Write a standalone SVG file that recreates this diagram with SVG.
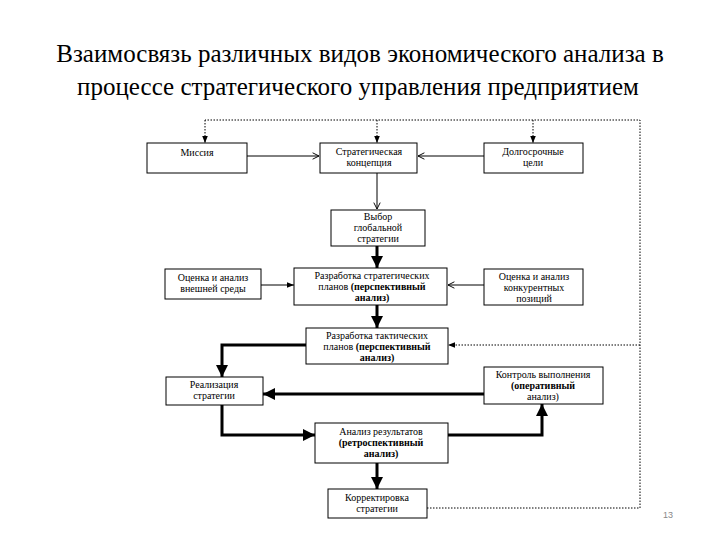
<svg xmlns="http://www.w3.org/2000/svg" width="720" height="540" viewBox="0 0 720 540">
<defs>
<style>
.box{fill:#fff;stroke:#000;stroke-width:1}
.t{font-family:'Liberation Serif','DejaVu Serif',serif;font-size:10px;fill:#000;text-anchor:middle}
.b{font-weight:bold}
.title{font-family:'Liberation Serif','DejaVu Serif',serif;font-size:25px;fill:#000;text-anchor:middle}
.thin{fill:none;stroke:#000;stroke-width:1}
.thick{fill:none;stroke:#000;stroke-width:3}
.dot{fill:none;stroke:#000;stroke-width:1;stroke-dasharray:1.5 1.5}
</style>
<marker id="fa" viewBox="0 0 10 10" refX="10" refY="5" markerWidth="7" markerHeight="7" markerUnits="userSpaceOnUse" orient="auto"><path d="M0,1 L10,5 L0,9 z" fill="#000"/></marker>
<marker id="ta" viewBox="0 0 10 10" refX="10" refY="5" markerWidth="4" markerHeight="4" orient="auto"><path d="M0,0 L10,5 L0,10 z" fill="#000"/></marker>
<marker id="oa" viewBox="0 0 10 10" refX="10" refY="5" markerWidth="8" markerHeight="8" markerUnits="userSpaceOnUse" orient="auto"><path d="M2,1 L10,5 L2,9" fill="none" stroke="#000" stroke-width="1.2"/></marker>
</defs>
<rect width="720" height="540" fill="#fff"/>
<text class="title" x="360" y="62">Взаимосвязь различных видов экономического анализа в</text>
<text class="title" x="358" y="95">процессе стратегического управления предприятием</text>
<g id="connectors">
<polyline class="dot" points="427,508 640,508 640,120 205,120"/>
<line class="dot" x1="205" y1="120" x2="205" y2="143" marker-end="url(#fa)"/>
<line class="dot" x1="377" y1="120" x2="377" y2="143" marker-end="url(#fa)"/>
<line class="dot" x1="533" y1="120" x2="533" y2="143" marker-end="url(#fa)"/>
<line class="dot" x1="640" y1="345" x2="448" y2="345" marker-end="url(#fa)"/>
<line class="thin" x1="247" y1="156" x2="319" y2="156" marker-end="url(#oa)"/>
<line class="thin" x1="484" y1="156" x2="418" y2="156" marker-end="url(#oa)"/>
<line class="thin" x1="377" y1="173" x2="377" y2="209" marker-end="url(#oa)"/>
<line class="thin" x1="261" y1="285" x2="294" y2="285" marker-end="url(#fa)"/>
<line class="thin" x1="484" y1="285" x2="448" y2="285" marker-end="url(#oa)"/>
<line class="thick" x1="377" y1="246" x2="377" y2="268" marker-end="url(#ta)"/>
<line class="thick" x1="377" y1="305" x2="377" y2="328" marker-end="url(#ta)"/>
<polyline class="thick" points="306,345 222,345 222,377" marker-end="url(#ta)"/>
<line class="thick" x1="484" y1="394" x2="263" y2="394" marker-end="url(#ta)"/>
<polyline class="thick" points="222,405 222,435 315,435" marker-end="url(#ta)"/>
<polyline class="thick" points="448,435 542,435 542,404" marker-end="url(#ta)"/>
<line class="thick" x1="377" y1="463" x2="377" y2="489" marker-end="url(#ta)"/>
</g>
<g id="n-missiya"><rect class="box" x="147" y="143" width="100" height="30"/><text class="t" x="197" y="156">Миссия</text></g>
<g id="n-koncepciya"><rect class="box" x="320" y="143" width="97" height="30"/><text class="t" x="369" y="155">Стратегическая</text><text class="t" x="369" y="166">концепция</text></g>
<g id="n-celi"><rect class="box" x="484" y="143" width="99" height="30"/><text class="t" x="533" y="155">Долгосрочные</text><text class="t" x="533" y="166">цели</text></g>
<g id="n-vybor"><rect class="box" x="331" y="210" width="94" height="36"/><text class="t" x="378" y="220">Выбор</text><text class="t" x="378" y="231">глобальной</text><text class="t" x="378" y="242">стратегии</text></g>
<g id="n-vneshn"><rect class="box" x="165" y="269" width="96" height="30"/><text class="t" x="213" y="281">Оценка и анализ</text><text class="t" x="213" y="292">внешней среды</text></g>
<g id="n-strat"><rect class="box" x="294" y="268" width="153" height="37"/><text class="t" x="372" y="279">Разработка стратегических</text><text class="t" x="372" y="290">планов <tspan class="b">(перспективный</tspan></text><text class="t b" x="372" y="301">анализ)</text></g>
<g id="n-konkur"><rect class="box" x="484" y="269" width="99" height="36"/><text class="t" x="534" y="280">Оценка и анализ</text><text class="t" x="534" y="291">конкурентных</text><text class="t" x="534" y="302">позиций</text></g>
<g id="n-takt"><rect class="box" x="306" y="328" width="142" height="36"/><text class="t" x="377" y="339">Разработка тактических</text><text class="t" x="377" y="350">планов <tspan class="b">(перспективный</tspan></text><text class="t b" x="377" y="361">анализ)</text></g>
<g id="n-realiz"><rect class="box" x="166" y="377" width="97" height="28"/><text class="t" x="214" y="388">Реализация</text><text class="t" x="214" y="399">стратегии</text></g>
<g id="n-kontrol"><rect class="box" x="484" y="367" width="119" height="37"/><text class="t" x="543" y="378">Контроль выполнения</text><text class="t b" x="543" y="389">(оперативный</text><text class="t" x="543" y="400">анализ)</text></g>
<g id="n-analiz"><rect class="box" x="315" y="423" width="133" height="40"/><text class="t" x="381" y="435">Анализ результатов</text><text class="t b" x="381" y="446">(ретроспективный</text><text class="t b" x="381" y="457">анализ)</text></g>
<g id="n-korr"><rect class="box" x="328" y="489" width="99" height="29"/><text class="t" x="377" y="501">Корректировка</text><text class="t" x="377" y="512">стратегии</text></g>
<text x="668" y="518" font-family="'Liberation Sans', sans-serif" font-size="9" fill="#888" text-anchor="middle">13</text>
</svg>
